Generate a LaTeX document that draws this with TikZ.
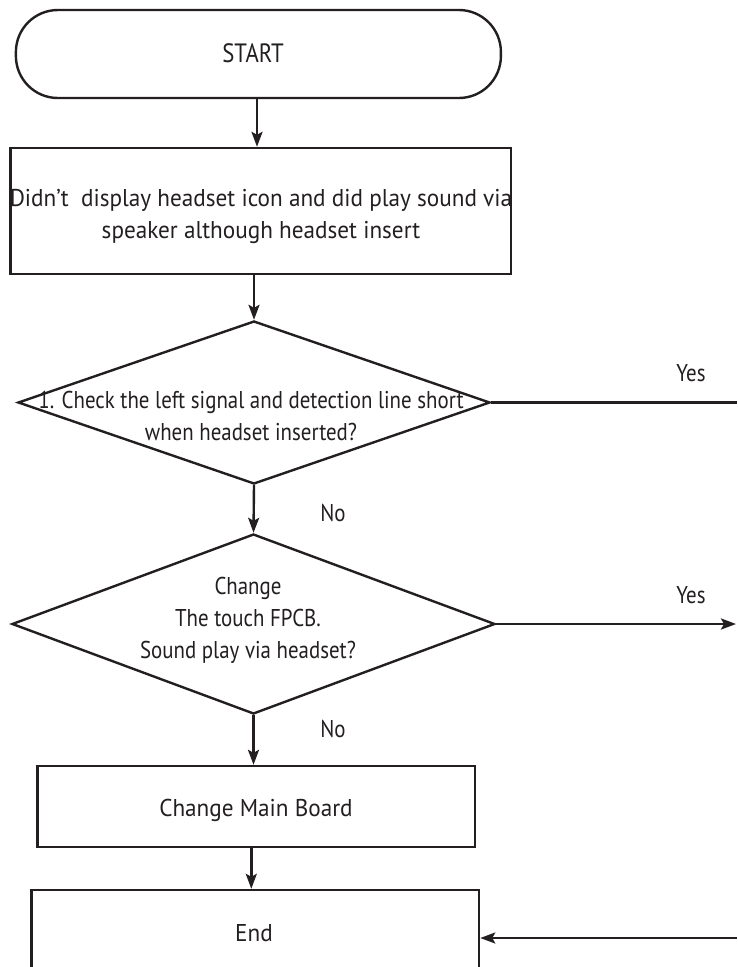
\documentclass[tikz,border=0pt]{standalone}
\usepackage{fontspec}
\setmainfont{PT Sans}[FakeStretch=0.86]
\newfontfamily\widefont{PT Sans}[FakeStretch=0.955]
\usetikzlibrary{shapes.geometric,arrows.meta}
\definecolor{ink}{HTML}{231F20}
\begin{document}
\begin{tikzpicture}[x=1pt,y=-1pt,
  line width=2.4pt,
  shapebox/.style={draw=ink, line width=2.4pt, rectangle, inner sep=0pt},
  decision/.style={draw=ink, line width=2.4pt, diamond, inner sep=0pt},
  txt/.style={text=ink, inner sep=0pt, align=center, font=\fontsize{24.3}{32}\selectfont},
  widetxt/.style={text=ink, inner sep=0pt, align=center, font=\widefont\fontsize{24.3}{32}\selectfont},
  lbl/.style={text=ink, inner sep=0pt, font=\fontsize{24.3}{32}\selectfont},
  arr/.style={draw=ink, line width=2.4pt, -{Stealth[length=15pt,width=11pt,inset=3pt]}},
  conn/.style={draw=ink, line width=2.4pt}]
\clip (0,0) rectangle (737,967);
\useasboundingbox (0,0) rectangle (737,967);

% start terminal
\node[shapebox, rounded corners=42pt, minimum width=485pt, minimum height=88pt] (s) at (258.4,54) {};
\node[txt, font=\fontsize{26.5}{32}\selectfont] (ts) at (253,53) {START};

% symptom box
\node[shapebox, minimum width=500.5pt, minimum height=126pt] (b2) at (260.8,211) {};
\node[widetxt] (t2) at (261,216.5) {Didn’t\ \ display headset icon and did play sound via\\speaker although headset insert};

% decision 1
\node[decision, minimum width=472pt, minimum height=163pt] (d1) at (254,402.5) {};
\node[txt] (td1) at (251,416) {1. Check the left signal and detection line short\\when headset inserted?};

% decision 2
\node[decision, minimum width=483pt, minimum height=180pt] (d2) at (253.5,624) {};
\node[txt] (td2) at (248,620.5) {Change\\The touch FPCB.\\Sound play via headset?};

% change main board
\node[shapebox, minimum width=437.4pt, minimum height=81pt] (mb) at (256.3,806.5) {};
\node[widetxt] (tmb) at (256,810.5) {Change Main Board};

% end box (bottom cut off)
\node[shapebox, minimum width=447.5pt, minimum height=150pt] (e) at (255.3,965) {};
\node[widetxt] (te) at (254,933) {End};

% free ends at the right edge
\coordinate (r1) at (737,402.5);
\coordinate (r2) at (736,624);
\coordinate (r3) at (737,938);

% connectors
\draw[arr] (s.south -| 257,0) -- (b2.north -| 257,0);
\draw[arr] (b2.south -| d1.north) -- (d1.north);
\draw[arr] (d1.south) -- (d2.north);
\draw[arr] (d2.south) -- (d2.south |- mb.north);
\draw[arr] ([xshift=-5pt]mb.south) -- ([xshift=-5pt]mb.south |- e.north);
\draw[conn] (d1.east) -- (r1);
\draw[arr] (d2.east) -- (r2);
\draw[arr] (r3) -- (r3 -| e.east);

% labels
\node[lbl] (y1) at (691,373) {Yes};
\node[lbl] (y2) at (691,595) {Yes};
\node[lbl] (n1) at (333,513) {No};
\node[lbl] (n2) at (333,729) {No};
\end{tikzpicture}
\end{document}
